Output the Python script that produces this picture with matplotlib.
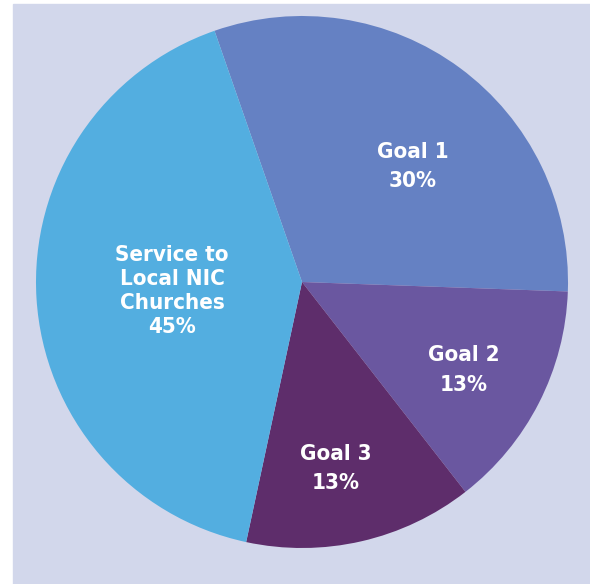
import matplotlib.pyplot as plt
from matplotlib.patches import Rectangle
from matplotlib import font_manager

# Slices, clockwise from the top (shares are the measured wedge sizes)
categories = ['Goal 1', 'Goal 2', 'Goal 3', 'Service to\nLocal NIC\nChurches']
pct_labels = ['30%', '13%', '13%', '45%']
shares = [30.9, 13.9, 13.9, 41.3]
colors = ['#6581c3', '#6a57a0', '#5e2d6b', '#53aee0']

W, H = 590, 584
fig = plt.figure(figsize=(W / 100, H / 100), dpi=100, facecolor='white')
ax = fig.add_axes([0, 0, 1, 1])

# lavender panel (white strip on left and top)
ax.add_patch(Rectangle((13, 0), W - 13, H - 4, color='#d2d7eb', zorder=0))

cx, cy, r = 302, H - 282, 266
ax.pie(shares, colors=colors, startangle=109.2, counterclock=False,
       center=(cx, cy), radius=r, frame=True,
       wedgeprops=dict(linewidth=0))
ax.set_xlim(0, W)
ax.set_ylim(0, H)
ax.set_aspect('equal')
ax.axis('off')

# label centres in pixels (x, y from top) and line spacing
label_xy = [(413, 166.5), (464, 370), (336, 468.5), (172, 291)]
spacing = [1.6, 1.6, 1.6, 1.25]

names = {f.name for f in font_manager.fontManager.ttflist}
font = [n for n in ['Liberation Sans Narrow', 'DejaVu Sans Condensed'] if n in names] + ['DejaVu Sans']
for name, pct, (px, py), ls in zip(categories, pct_labels, label_xy, spacing):
    ax.text(px, H - py, name + '\n' + pct, ha='center', va='center',
            color='white', fontsize=16, fontweight='bold',
            family=font, fontstretch='condensed', linespacing=ls)

fig.savefig('out.png', dpi=100, facecolor='white')
